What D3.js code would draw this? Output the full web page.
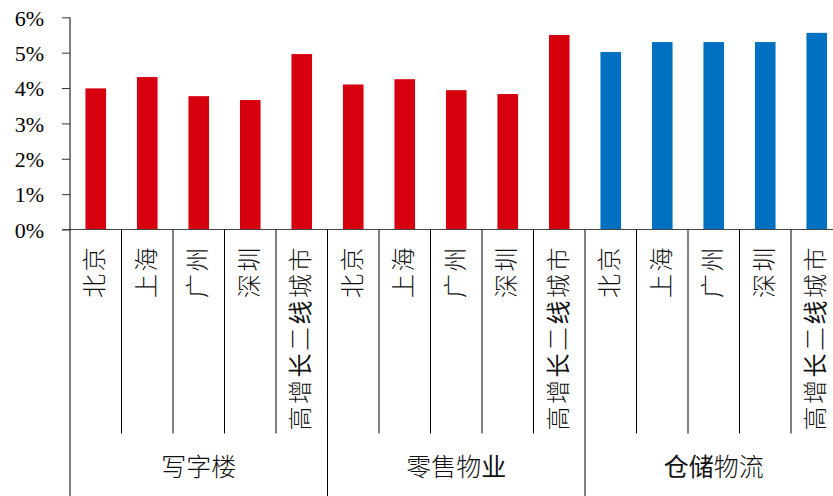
<!DOCTYPE html>
<html><head><meta charset="utf-8">
<script src="https://cdn.jsdelivr.net/npm/d3@7/dist/d3.min.js"></script>
<style>html,body{margin:0;padding:0;background:#fff;overflow:hidden}</style>
</head><body>
<svg id="chart" width="833" height="496"></svg>
<script>
const cities = ["北京","上海","广州","深圳","高增长二线城市"];
const groups = ["写字楼","零售物业","仓储物流"];
const groupColors = ["#D7000F","#D7000F","#0070C0"];
const office = [0.0399, 0.0431, 0.0377, 0.0366, 0.0496];
const retail = [0.0410, 0.0425, 0.0394, 0.0383, 0.0550];
const logistics = [0.0502, 0.0530, 0.0530, 0.0530, 0.0556];
const yTicks = [0,0.01,0.02,0.03,0.04,0.05,0.06];
const heavyChars = "长线业仓储";

const series = [office, retail, logistics];
const data = [];
series.forEach((vals,g)=>vals.forEach((v,i)=>data.push({g, city:cities[i], v, idx:g*cities.length+i})));

const svg = d3.select("#chart");
const x0 = 70, x1 = 70 + 15*51.5;
const yTop = 17.3, yBot = 229.5;
const x = d3.scaleBand().domain(d3.range(data.length)).range([x0,x1]).paddingInner(0.6).paddingOuter(0.3);
const y = d3.scaleLinear().domain([0,0.06]).range([yBot,yTop]);
const step = x.step();

function addChars(sel){
  sel.each(function(d){
    const t = d3.select(this);
    const s = typeof d === "string" ? d : d.city;
    for(const ch of s){
      const heavy = heavyChars.includes(ch);
      t.append("tspan").text(ch).style("font-weight", heavy ? "400" : "300");
    }
  });
}

// bars
svg.append("g").selectAll("rect").data(data).join("rect")
  .attr("x", d=>x(d.idx)).attr("width", x.bandwidth())
  .attr("y", d=>y(d.v)).attr("height", d=>y(0)-y(d.v))
  .attr("fill", d=>groupColors[d.g]);

// y axis
const yAxis = d3.axisLeft(y).tickValues(yTicks).tickSize(8).tickFormat(d3.format(".0%"));
const ya = svg.append("g").attr("transform",`translate(${x0},0)`).call(yAxis);
ya.select(".domain").attr("stroke","#000").attr("d",`M0,${yTop}V${yBot}`);
ya.selectAll(".tick line").attr("stroke","#333");
ya.selectAll(".tick text").attr("x",-26).attr("dy","0.35em")
  .style("font-family","'Liberation Serif','Times New Roman',serif").style("font-size","22px").attr("fill","#000");

// x baseline
svg.append("line").attr("x1",62).attr("x2",833).attr("y1",yBot).attr("y2",yBot).attr("stroke","#444").attr("stroke-width",1.2);

// separators
const sepG = svg.append("g");
for(let i=0;i<=data.length;i++){
  const sx = x0 + i*step;
  const isGroup = i % cities.length === 0;
  sepG.append("line").attr("x1",sx).attr("x2",sx).attr("y1",yBot).attr("y2", isGroup?496:433.5)
    .attr("stroke","#000").attr("stroke-width",1);
}

// category labels (vertical, bottom-to-top)
svg.append("g").selectAll("text").data(data).join("text")
  .attr("transform", d=>`translate(${x(d.idx)+x.bandwidth()/2 - 1},245) rotate(-90)`)
  .attr("text-anchor","end").attr("dy","0.36em")
  .style("font-family","'Noto Sans CJK SC',sans-serif").style("font-size","24px").style("letter-spacing","2.5px").attr("fill","#111")
  .call(addChars);

// group labels
svg.append("g").selectAll("text").data(groups).join("text")
  .attr("x",(d,i)=>x0 + (i*cities.length + cities.length/2)*step)
  .attr("y",467).attr("dy","0.36em").attr("text-anchor","middle")
  .style("font-family","'Noto Sans CJK SC',sans-serif").style("font-size","25px").attr("fill","#111")
  .call(addChars);
</script>
</body></html>
